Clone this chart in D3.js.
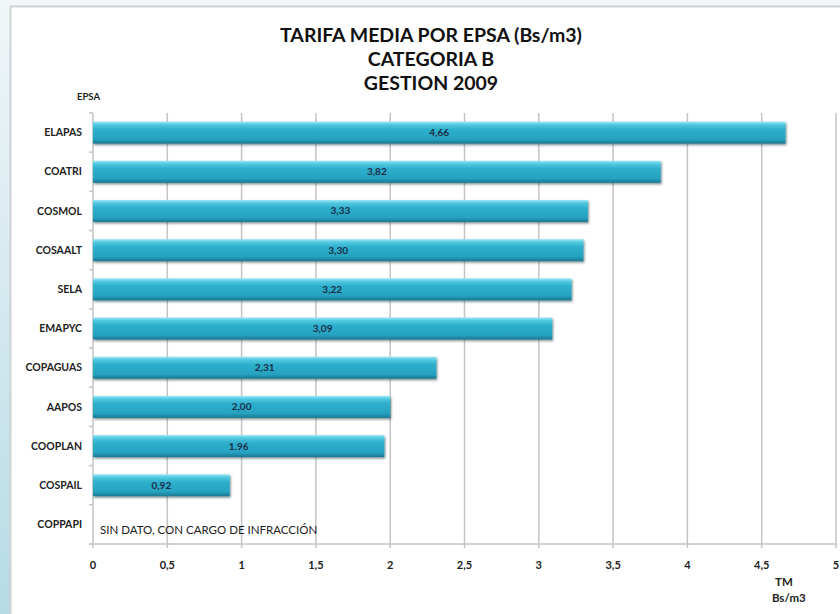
<!DOCTYPE html>
<html>
<head>
<meta charset="utf-8">
<script src="https://cdn.jsdelivr.net/npm/d3@7"></script>
<style>
  html, body { margin: 0; padding: 0; }
  body { width: 840px; height: 614px; overflow: hidden; font-family: Lato, "Open Sans", sans-serif; }
</style>
</head>
<body>
<svg class="chart" width="840" height="614"></svg>
<script>
(function () {
  "use strict";

  const titleLines = ["TARIFA MEDIA POR EPSA (Bs/m3)", "CATEGORIA B", "GESTION 2009"];
  const epsas = ["ELAPAS", "COATRI", "COSMOL", "COSAALT", "SELA", "EMAPYC", "COPAGUAS", "AAPOS", "COOPLAN", "COSPAIL", "COPPAPI"];
  const tarifas = [4.66, 3.82, 3.33, 3.30, 3.22, 3.09, 2.31, 2.00, 1.96, 0.92, null];
  const valueLabels = ["4,66", "3,82", "3,33", "3,30", "3,22", "3,09", "2,31", "2,00", "1.96", "0,92", ""];
  const xTicks = [0, 0.5, 1, 1.5, 2, 2.5, 3, 3.5, 4, 4.5, 5];
  const noDataNote = "SIN DATO, CON CARGO DE INFRACCIÓN";

  const svg = d3.select(".chart");
  const margin = { top: 113, right: 4, bottom: 70, left: 93 };
  const width = 836 - margin.left;
  const height = 544 - margin.top;

  const defs = svg.append("defs");
  const bg = defs.append("linearGradient").attr("id", "bg").attr("x1", 0).attr("y1", 0).attr("x2", 0).attr("y2", 1);
  bg.append("stop").attr("offset", 0).attr("stop-color", "#f1f6f8");
  bg.append("stop").attr("offset", 1).attr("stop-color", "#b6dbe6");

  const barGrad = defs.append("linearGradient").attr("id", "bar").attr("x1", 0).attr("y1", 0).attr("x2", 0).attr("y2", 1);
  barGrad.append("stop").attr("offset", 0).attr("stop-color", "#9ae8f5");
  barGrad.append("stop").attr("offset", 0.14).attr("stop-color", "#52c8df");
  barGrad.append("stop").attr("offset", 0.35).attr("stop-color", "#2eb0cd");
  barGrad.append("stop").attr("offset", 0.8).attr("stop-color", "#26a2c0");
  barGrad.append("stop").attr("offset", 1).attr("stop-color", "#187891");

  const shadow = defs.append("filter").attr("id", "shadow")
    .attr("x", "-2%").attr("y", "-20%").attr("width", "104%").attr("height", "160%");
  shadow.append("feDropShadow").attr("dx", 1).attr("dy", 1.5).attr("stdDeviation", 1)
    .attr("flood-color", "#1d3f4a").attr("flood-opacity", 0.6);

  // backdrop and white panel
  svg.append("rect").attr("width", 840).attr("height", 614).attr("fill", "url(#bg)");
  svg.append("rect").attr("x", 10.5).attr("y", 6.5).attr("width", 840).attr("height", 620)
    .attr("fill", "#fff").attr("stroke", "#cfd2d4").attr("stroke-width", 2);

  svg.append("g").selectAll("text")
    .data(titleLines)
    .join("text")
    .attr("x", 431)
    .attr("y", (d, i) => 42 + i * 24)
    .attr("text-anchor", "middle")
    .attr("font-weight", "bold")
    .attr("font-size", 19.5)
    .attr("fill", "#111")
    .text(d => d);

  const chart = svg.append("g").attr("transform", `translate(${margin.left},${margin.top})`);

  const x = d3.scaleLinear().domain([0, 5]).range([0, width]);
  const y = d3.scaleBand().domain(epsas).range([0, height]).paddingInner(0.44).paddingOuter(0.22);
  const step = y.step();

  // gridlines
  chart.append("g").selectAll("line")
    .data(xTicks.slice(1))
    .join("line")
    .attr("x1", d => x(d)).attr("x2", d => x(d))
    .attr("y1", 0).attr("y2", height)
    .attr("stroke", "#c4c4c4").attr("stroke-width", 1.5);

  // y axis line with small ticks at category boundaries
  chart.append("line").attr("x1", 0).attr("x2", 0).attr("y1", 0).attr("y2", height)
    .attr("stroke", "#c4c4c4").attr("stroke-width", 1.5);
  chart.append("g").selectAll("line")
    .data(d3.range(epsas.length + 1))
    .join("line")
    .attr("x1", -4).attr("x2", 0)
    .attr("y1", i => i * step).attr("y2", i => i * step)
    .attr("stroke", "#c4c4c4").attr("stroke-width", 1.5);

  // x axis
  chart.append("line").attr("x1", -4).attr("x2", width).attr("y1", height).attr("y2", height)
    .attr("stroke", "#c4c4c4").attr("stroke-width", 1.5);
  chart.append("g").selectAll("line")
    .data(xTicks)
    .join("line")
    .attr("x1", d => x(d)).attr("x2", d => x(d))
    .attr("y1", height).attr("y2", height + 4)
    .attr("stroke", "#c4c4c4").attr("stroke-width", 1.5);
  chart.append("g").selectAll("text")
    .data(xTicks)
    .join("text")
    .attr("x", d => x(d))
    .attr("y", height + 25)
    .attr("text-anchor", "middle")
    .attr("font-size", 11)
    .attr("font-weight", "bold")
    .attr("fill", "#222")
    .text(d => String(d).replace(".", ","));

  // category labels
  chart.append("g").selectAll("text")
    .data(epsas)
    .join("text")
    .attr("x", -11)
    .attr("y", d => y(d) + y.bandwidth() / 2)
    .attr("dy", "0.35em")
    .attr("text-anchor", "end")
    .attr("font-size", 10.5)
    .attr("font-weight", "bold")
    .attr("fill", "#222")
    .text(d => d);

  const rows = epsas.map((name, i) => ({ name, value: tarifas[i], label: valueLabels[i] }));
  const withData = rows.filter(d => d.value != null);

  chart.append("g").selectAll("rect")
    .data(withData)
    .join("rect")
    .attr("x", 0)
    .attr("y", d => y(d.name))
    .attr("width", d => x(d.value))
    .attr("height", y.bandwidth())
    .attr("fill", "url(#bar)")
    .attr("filter", "url(#shadow)");

  chart.append("g").selectAll("text")
    .data(withData)
    .join("text")
    .attr("x", d => x(d.value) / 2)
    .attr("y", d => y(d.name) + y.bandwidth() / 2)
    .attr("dy", "0.35em")
    .attr("text-anchor", "middle")
    .attr("font-size", 10)
    .attr("font-weight", "bold")
    .attr("fill", "#1b2e45")
    .text(d => d.label);

  const missing = rows.find(d => d.value == null);
  chart.append("text")
    .attr("x", 7)
    .attr("y", y(missing.name) + y.bandwidth() / 2 + 6)
    .attr("dy", "0.35em")
    .attr("font-size", 11.5)
    .attr("fill", "#222")
    .text(noDataNote);

  svg.append("text").attr("x", 77).attr("y", 100)
    .attr("font-size", 9.5).attr("font-weight", "bold").attr("fill", "#222")
    .text("EPSA");

  const unit = svg.append("text").attr("font-size", 11.5).attr("font-weight", "bold").attr("fill", "#222");
  unit.append("tspan").attr("x", 775).attr("y", 586).text("TM");
  unit.append("tspan").attr("x", 772).attr("y", 602).text("Bs/m3");
})();
</script>
</body>
</html>
